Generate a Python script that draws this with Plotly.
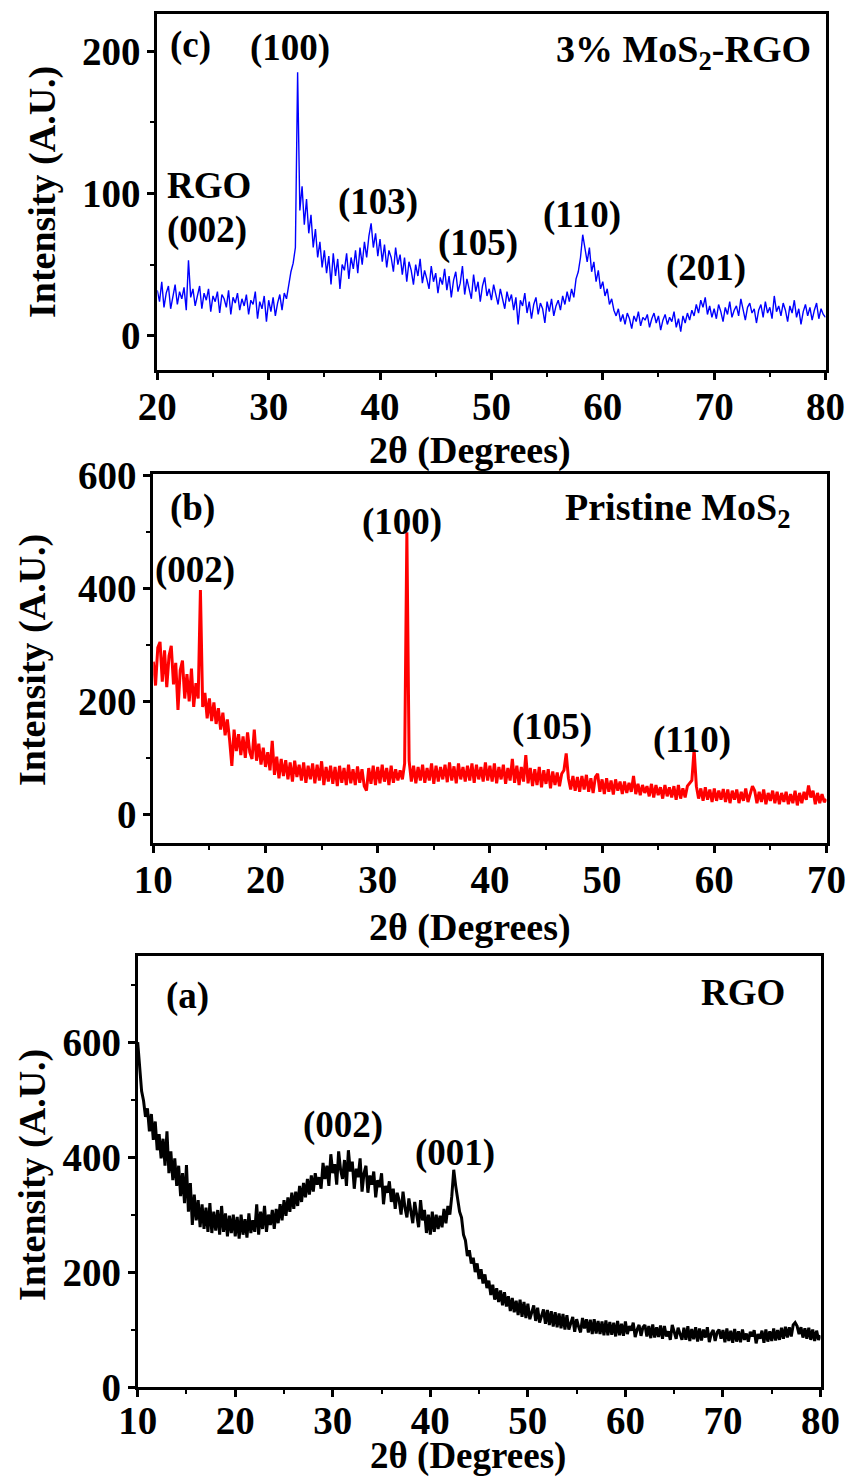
import numpy as np
import plotly.graph_objects as go

# ---------------- data (0.2 degree grid) ----------------
c_start, c_step = 20.0, 0.2
c_intensity = [
    32, 24, 38, 20, 30, 35, 19, 28, 36, 22,
    31, 26, 34, 18, 53, 27, 33, 21, 29, 35,
    19, 30, 25, 33, 17, 28, 24, 31, 16, 29,
    26, 20, 32, 15, 27, 23, 30, 18, 26, 21,
    29, 15, 25, 22, 31, 12, 24, 19, 28, 10,
    25, 17, 27, 14, 23, 29, 18, 30, 26, 37,
    45, 51, 62, 185, 88, 105, 78, 96, 72, 85,
    62, 75, 55, 66, 48, 60, 44, 56, 36, 58,
    42, 54, 33, 50, 46, 58, 40, 55, 47, 60,
    44, 62, 50, 66, 55, 70, 79, 62, 72, 56,
    68, 52, 64, 48, 60, 55, 45, 62, 50, 57,
    43, 55, 38, 52, 46, 36, 50, 42, 54, 37,
    46, 40, 33, 49, 38, 44, 30, 41, 36, 47,
    32, 42, 27, 39, 45, 31, 37, 49, 29, 40,
    34, 26, 43, 31, 38, 24, 35, 41, 28, 33,
    25, 36, 29, 22, 33, 27, 19, 31, 24, 29,
    18, 27, 8, 25, 21, 30, 16, 24, 12, 22,
    27, 15, 23, 19, 9, 24, 17, 26, 14, 21,
    25, 18, 28, 22, 31, 24, 33, 27, 40, 45,
    55, 71, 60, 52, 62, 45, 52, 38, 46, 33,
    38, 28, 33, 22, 26, 18, 14, 19, 10, 15,
    8, 16, 12, 5, 14, 10, 17, 7, 13, 11,
    15, 6, 12, 16, 9, 14, 4, 11, 15, 8,
    13, 10, 17, 6, 12, 3, 14, 9, 16, 11,
    18, 14, 22, 16, 25, 20, 27, 15, 21, 13,
    19, 12, 22, 17, 10, 20, 15, 24, 13, 18,
    21, 14, 26, 17, 11, 20, 23, 16, 19, 9,
    18, 22, 13, 24, 16, 20, 12, 28, 17, 21,
    14, 23, 18, 10, 21, 16, 25, 13, 19, 8,
    17, 22, 14, 20, 11, 18, 23, 12, 19, 15,
    13,
]

b_start, b_step = 10.0, 0.2
b_intensity = [
    270, 228, 295, 305, 235, 290, 225, 280, 298, 230,
    268, 185, 255, 272, 205, 248, 200, 258, 190, 232,
    205, 397, 190, 215, 170, 205, 165, 198, 160, 188,
    150, 180, 140, 168, 132, 86, 150, 112, 142, 105,
    138, 100, 145, 110, 98, 150, 95, 125, 88, 118,
    84, 110, 78, 130, 70, 102, 64, 98, 68, 96,
    62, 92, 58, 95, 66, 88, 60, 92, 56, 86,
    62, 90, 55, 88, 60, 94, 52, 84, 58, 86,
    54, 84, 50, 86, 56, 82, 52, 88, 55, 80,
    52, 85, 56, 80, 50, 42, 82, 54, 86, 52,
    84, 55, 88, 58, 82, 52, 86, 56, 80, 60,
    78, 62, 90, 499, 95, 58, 86, 55, 84, 60,
    88, 56, 82, 60, 90, 54, 86, 58, 84, 62,
    88, 57, 92, 60, 85, 55, 90, 62, 84, 58,
    86, 60, 90, 56, 88, 62, 84, 58, 92, 60,
    86, 58, 90, 55, 84, 62, 88, 54, 82, 60,
    98, 56, 86, 52, 84, 58, 105, 55, 82, 50,
    80, 52, 84, 48, 78, 54, 80, 46, 76, 52,
    74, 50, 72, 78, 108, 64, 44, 68, 42, 66,
    40, 68, 44, 70, 40, 64, 38, 66, 72, 40,
    62, 36, 64, 40, 60, 35, 62, 42, 58, 36,
    58, 38, 56, 40, 68, 36, 54, 34, 52, 38,
    50, 32, 54, 30, 52, 34, 48, 28, 52, 32,
    48, 30, 50, 26, 52, 28, 46, 30, 50, 55,
    60, 115, 50, 28, 46, 24, 48, 26, 44, 22,
    46, 24, 42, 26, 45, 22, 44, 20, 42, 26,
    44, 20, 40, 24, 46, 22, 38, 50, 42, 20,
    40, 22, 44, 18, 38, 24, 42, 20, 40, 18,
    38, 22, 40, 18, 36, 20, 42, 16, 38, 20,
    40, 26, 51, 30, 42, 18, 38, 20, 36, 22,
    27,
]

a_start, a_step = 10.0, 0.2
a_intensity = [
    600, 548, 515, 498, 470, 485, 445, 475, 430, 462,
    412, 440, 398, 432, 385, 445, 372, 410, 360, 398,
    350, 385, 332, 372, 320, 386, 305, 355, 282, 335,
    290, 325, 278, 318, 275, 312, 270, 320, 268, 305,
    272, 308, 265, 315, 270, 302, 262, 298, 268, 300,
    262, 296, 258, 300, 265, 292, 260, 302, 268, 290,
    270, 318, 265, 305, 275, 315, 270, 300, 282, 308,
    275, 310, 285, 318, 290, 325, 298, 330, 305, 338,
    310, 340, 315, 350, 322, 355, 330, 362, 335, 368,
    340, 372, 352, 365, 345, 390, 362, 385, 350, 405,
    372, 388, 352, 410, 378, 362, 395, 350, 412, 375,
    392, 345, 380, 365, 398, 340, 372, 385, 338, 368,
    352, 375, 330, 360, 348, 372, 318, 350, 338, 358,
    322, 345, 310, 338, 325, 300, 340, 312, 295, 328,
    305, 285, 322, 295, 278, 325, 290, 308, 268, 300,
    265, 305, 270, 300, 275, 298, 278, 310, 285, 315,
    300, 332, 378, 350, 328, 305, 295, 265, 255, 228,
    238, 215, 225, 200, 215, 188, 205, 180, 196, 172,
    185, 160, 178, 152, 172, 148, 168, 142, 165, 140,
    158, 132, 155, 130, 150, 125, 152, 122, 148, 120,
    145, 118, 130, 142, 115, 138, 112, 124, 135, 110,
    134, 108, 132, 105, 130, 104, 128, 102, 127, 100,
    125, 100, 112, 122, 96, 118, 105, 95, 120, 102,
    118, 95, 117, 92, 118, 93, 115, 92, 114, 90,
    116, 90, 113, 91, 112, 88, 115, 90, 110, 89,
    114, 92, 106, 98, 112, 87, 100, 108, 89, 104,
    108, 88, 106, 85, 109, 86, 104, 87, 107, 84,
    106, 88, 97, 82, 108, 95, 84, 103, 92, 82,
    103, 82, 106, 80, 101, 83, 104, 79, 102, 81,
    100, 86, 104, 78, 93, 99, 80, 95, 100, 84,
    99, 78, 102, 80, 98, 77, 101, 79, 97, 78,
    100, 82, 93, 79, 96, 88, 99, 76, 92, 84,
    98, 77, 100, 79, 97, 80, 102, 81, 99, 82,
    103, 84, 105, 86, 104, 88, 108, 112, 106, 92,
    104, 86, 102, 84, 103, 82, 100, 80, 98, 82,
    90,
]

c_x = np.round(c_start + c_step * np.arange(len(c_intensity)), 2)
b_x = np.round(b_start + b_step * np.arange(len(b_intensity)), 2)
a_x = np.round(a_start + a_step * np.arange(len(a_intensity)), 2)

# ---------------- layout helpers ----------------
W, H = 851, 1481
FONT = "Liberation Serif, Times New Roman, serif"


def fx(px):
    return px / W


def fy(py):
    return 1 - py / H


fig = go.Figure()
fig.add_trace(go.Scatter(x=c_x, y=c_intensity, mode="lines",
                         line=dict(color="#0000FF", width=1.4),
                         xaxis="x", yaxis="y", showlegend=False))
fig.add_trace(go.Scatter(x=b_x, y=b_intensity, mode="lines",
                         line=dict(color="#FF0000", width=3),
                         xaxis="x2", yaxis="y2", showlegend=False))
fig.add_trace(go.Scatter(x=a_x, y=a_intensity, mode="lines",
                         line=dict(color="#000000", width=3),
                         xaxis="x3", yaxis="y3", showlegend=False))

tickfont = dict(family=FONT, size=39, color="black", weight="bold")


def axis_style(rng, dtick, minor_dtick, domain, anchor, standoff):
    return dict(range=rng, dtick=dtick, domain=domain, anchor=anchor,
                automargin=False,
                showline=True, linewidth=3, linecolor="black", mirror=True,
                ticks="outside", ticklen=7, tickwidth=3, tickcolor="black",
                ticklabelstandoff=standoff,
                minor=dict(dtick=minor_dtick, ticks="outside", ticklen=4,
                           tickwidth=2, tickcolor="black"),
                showgrid=False, zeroline=False, tickfont=tickfont)


# panel boxes in pixels: (left, right, top, bottom)
box_c = (157.3, 825.5, 14, 370)
box_b = (153.3, 826.5, 474, 842.7)
box_a = (137.7, 820.5, 956, 1387)


def xdom(b):
    return [fx(b[0]), fx(b[1])]


def ydom(b):
    return [fy(b[3]), fy(b[2])]


XS, YS = -7, -1
fig.update_layout(
    width=W, height=H, margin=dict(l=0, r=0, t=0, b=0),
    paper_bgcolor="white", plot_bgcolor="white",
    xaxis=axis_style([20, 80], 10, 5, xdom(box_c), "y", XS),
    yaxis=axis_style([-24, 226], 100, 50, ydom(box_c), "x", YS),
    xaxis2=axis_style([10, 70], 10, 5, xdom(box_b), "y2", XS),
    yaxis2=axis_style([-50, 602], 200, 100, ydom(box_b), "x2", YS),
    xaxis3=axis_style([10, 80], 10, 5, xdom(box_a), "y3", -10),
    yaxis3=axis_style([0, 750], 200, 100, ydom(box_a), "x3", YS),
)

annots = []


def label(text, px, py, size=37, angle=0, xanchor="center"):
    annots.append(dict(text=text, x=fx(px), y=fy(py), xref="paper", yref="paper",
                       showarrow=False, xanchor=xanchor, yanchor="middle",
                       textangle=angle,
                       font=dict(family=FONT, size=size, color="black", weight="bold")))


# axis titles
for (yx, yy, xx, xy, s) in [(43, 192, 470, 450, 38), (33, 660, 470, 927, 38),
                            (32, 1175, 468, 1456, 37)]:
    label("Intensity (A.U.)", yx, yy, size=38, angle=-90)
    label("2θ (Degrees)", xx, xy, size=s)

# panel (c)
label("(c)", 190, 45)
label("(100)", 290, 48)
label("3% MoS<sub>2</sub>-RGO", 813, 52, size=38, xanchor="right")
label("RGO", 165, 185, xanchor="left")
label("(002)", 165, 230, xanchor="left")
label("(103)", 378, 202)
label("(105)", 478, 243)
label("(110)", 582, 215)
label("(201)", 706, 268)
# panel (b)
label("(b)", 192, 508)
label("(100)", 402, 522)
label("Pristine MoS<sub>2</sub>", 792, 510, size=38, xanchor="right")
label("(002)", 195, 570)
label("(105)", 552, 727)
label("(110)", 692, 740)
# panel (a)
label("(a)", 187, 996)
label("RGO", 787, 992, xanchor="right")
label("(002)", 343, 1125)
label("(001)", 455, 1153)

fig.update_layout(annotations=annots)
fig.write_html("out.html")
